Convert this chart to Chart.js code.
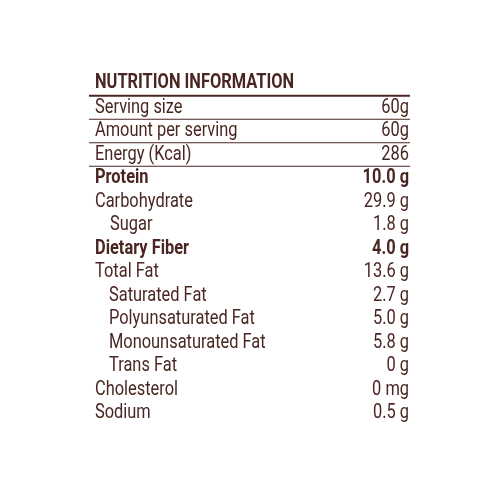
<!DOCTYPE html><html><head><style>html,body{margin:0;background:#fff}#c{width:500px;height:500px}</style>
<script src="https://cdn.jsdelivr.net/npm/chart.js"></script></head><body><div id="c"><canvas id="cv" width="500" height="500"></canvas></div>
<script>
const title = "NUTRITION INFORMATION";
const labels = ["Serving size","Amount per serving","Energy (Kcal)","Protein","Carbohydrate","Sugar","Dietary Fiber","Total Fat","Saturated Fat","Polyunsaturated Fat","Monounsaturated Fat","Trans Fat","Cholesterol","Sodium"];
const values = ["60g","60g","286","10.0 g","29.9 g","1.8 g","4.0 g","13.6 g","2.7 g","5.0 g","5.8 g","0 g","0 mg","0.5 g"];
const bold = [0,0,0,1,0,0,1,0,0,0,0,0,0,0];
const indent = [0,0,0,0,0,1,0,0,1,1,1,1,0,0];
const boxed = 3;
const col = "#4a2622";
const plugin = {id:"tbl", afterDraw(ch){
  const c = ch.ctx, y = ch.scales.y, x = ch.scales.x;
  const L = x.getPixelForValue(0), R = x.getPixelForValue(1);
  c.save(); c.fillStyle = col; c.strokeStyle = col; c.textBaseline = "middle";
  const txt = (s, px, py, b, align) => {
    c.save(); c.font = (b ? "bold " : "") + "20px Roboto";
    c.translate(px, py); c.scale(0.82, 1); c.textAlign = align; c.fillText(s, 0, 0); c.restore();
  };
  txt(title, L + 3, y.getPixelForValue(-1) - 1, true, "left");
  labels.forEach((l, i) => {
    const py = y.getPixelForValue(i);
    txt(l, L + 3 + (indent[i] ? (i === 5 ? 15 : 14) : 0), py, bold[i], "left");
    txt(values[i], R - 1, py, bold[i], "right");
  });
  const top = y.getPixelForValue(-0.5);
  c.lineWidth = 2; c.beginPath(); c.moveTo(L - 3, top); c.lineTo(R, top); c.stroke();
  c.lineWidth = 1.2; c.beginPath();
  for (let i = 0; i < boxed; i++) { const p = y.getPixelForValue(i + 0.5); c.moveTo(L - 3, p); c.lineTo(R, p); }
  c.stroke();
  c.restore();
}};
const rowH = 23.5, y0 = 107.5;
new Chart(document.getElementById("cv"), {
  type: "scatter",
  data: {datasets: [{data: labels.map((l, i) => ({x: 0.5, y: i})), pointRadius: 0}]},
  options: {responsive: false, animation: false, layout: {padding: 0},
    plugins: {legend: {display: false}, tooltip: {enabled: false}},
    scales: {
      x: {display: false, min: -92/318, max: (500-92)/318},
      y: {display: false, reverse: true, min: -y0/rowH, max: (500-y0)/rowH}
    }},
  plugins: [plugin]
});
</script></body></html>
